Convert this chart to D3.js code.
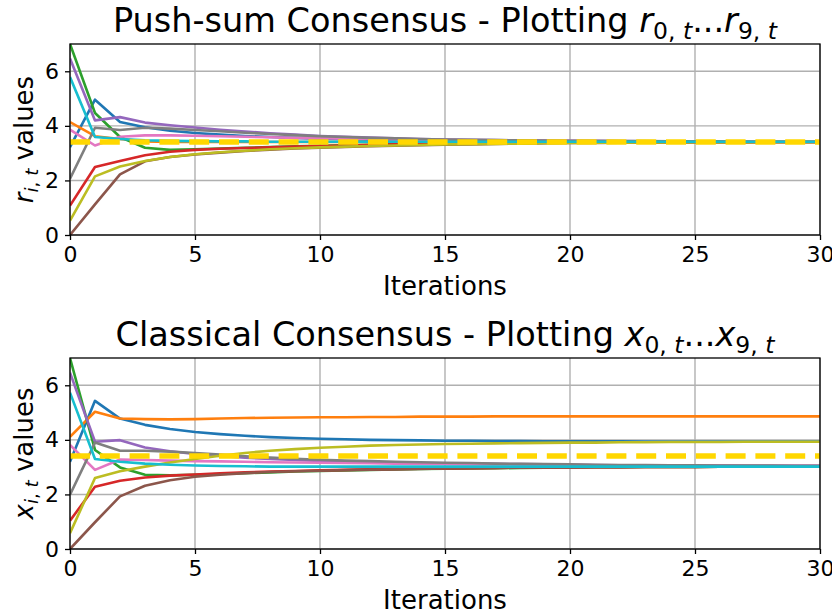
<!DOCTYPE html>
<html>
<head>
<meta charset="utf-8">
<script src="https://cdn.jsdelivr.net/npm/d3@7"></script>
<style>
    body { margin: 0; background: #fff; }
    svg { font-family: "DejaVu Sans", sans-serif; }
</style>
</head>
<body>
<svg id="chart" width="832" height="614"></svg>
<script>
// iterations on the x axis
const iterations = [0, 1, 2, 3, 4, 5, 6, 7, 8, 9, 10, 11, 12, 13, 14, 15, 16, 17, 18, 19, 20, 21, 22, 23, 24, 25, 26, 27, 28, 29, 30];
const xTicks = [0, 5, 10, 15, 20, 25, 30];
const yTicks = [0, 2, 4, 6];

// push-sum ratios r_{i,t}, one array per node
const r0 = [3.22, 4.96, 4.14, 3.95, 3.82, 3.74, 3.68, 3.63, 3.59, 3.56, 3.53, 3.51, 3.49, 3.47, 3.46, 3.45, 3.44, 3.44, 3.43, 3.43, 3.42, 3.42, 3.42, 3.42, 3.42, 3.42, 3.42, 3.42, 3.42, 3.42, 3.42];
const r1 = [4.14, 3.62, 3.52, 3.43, 3.41, 3.41, 3.41, 3.41, 3.41, 3.41, 3.41, 3.41, 3.41, 3.41, 3.41, 3.41, 3.41, 3.41, 3.41, 3.41, 3.41, 3.41, 3.41, 3.41, 3.41, 3.41, 3.41, 3.41, 3.41, 3.41, 3.41];
const r2 = [7.00, 4.47, 3.59, 3.20, 3.12, 3.14, 3.17, 3.20, 3.22, 3.25, 3.27, 3.29, 3.31, 3.33, 3.34, 3.35, 3.36, 3.37, 3.38, 3.39, 3.39, 3.40, 3.40, 3.40, 3.41, 3.41, 3.41, 3.41, 3.41, 3.41, 3.41];
const r3 = [1.08, 2.49, 2.71, 2.92, 3.05, 3.12, 3.16, 3.19, 3.21, 3.24, 3.26, 3.28, 3.30, 3.32, 3.33, 3.35, 3.36, 3.37, 3.38, 3.38, 3.39, 3.39, 3.40, 3.40, 3.40, 3.41, 3.41, 3.41, 3.41, 3.41, 3.41];
const r4 = [6.47, 4.20, 4.32, 4.12, 4.02, 3.94, 3.86, 3.79, 3.73, 3.68, 3.63, 3.60, 3.57, 3.54, 3.52, 3.50, 3.49, 3.48, 3.47, 3.46, 3.45, 3.44, 3.44, 3.43, 3.43, 3.43, 3.42, 3.42, 3.42, 3.42, 3.42];
const r5 = [0.00, 1.12, 2.22, 2.70, 2.86, 2.95, 3.02, 3.08, 3.13, 3.17, 3.20, 3.23, 3.25, 3.27, 3.29, 3.31, 3.32, 3.34, 3.35, 3.36, 3.37, 3.37, 3.38, 3.39, 3.39, 3.40, 3.40, 3.40, 3.41, 3.41, 3.41];
const r6 = [3.86, 3.28, 3.60, 3.65, 3.65, 3.64, 3.62, 3.60, 3.58, 3.56, 3.55, 3.53, 3.52, 3.50, 3.49, 3.48, 3.47, 3.46, 3.45, 3.45, 3.44, 3.44, 3.43, 3.43, 3.43, 3.42, 3.42, 3.42, 3.42, 3.42, 3.42];
const r7 = [2.06, 3.93, 3.85, 3.93, 3.90, 3.85, 3.80, 3.75, 3.70, 3.66, 3.62, 3.59, 3.56, 3.54, 3.52, 3.50, 3.49, 3.48, 3.47, 3.46, 3.45, 3.45, 3.44, 3.44, 3.43, 3.43, 3.43, 3.42, 3.42, 3.42, 3.42];
const r8 = [0.53, 2.15, 2.51, 2.71, 2.86, 2.96, 3.03, 3.09, 3.14, 3.18, 3.21, 3.24, 3.26, 3.28, 3.30, 3.32, 3.33, 3.34, 3.35, 3.36, 3.37, 3.38, 3.38, 3.39, 3.39, 3.40, 3.40, 3.40, 3.41, 3.41, 3.41];
const r9 = [5.79, 3.59, 3.52, 3.47, 3.45, 3.44, 3.43, 3.43, 3.42, 3.42, 3.42, 3.42, 3.42, 3.42, 3.42, 3.42, 3.42, 3.42, 3.42, 3.42, 3.42, 3.42, 3.42, 3.42, 3.42, 3.42, 3.42, 3.42, 3.42, 3.42, 3.42];

// classical consensus values x_{i,t}
const x0 = [3.20, 5.43, 4.78, 4.55, 4.40, 4.29, 4.21, 4.15, 4.10, 4.07, 4.04, 4.02, 4.00, 3.99, 3.98, 3.97, 3.97, 3.96, 3.96, 3.95, 3.95, 3.95, 3.95, 3.94, 3.94, 3.94, 3.94, 3.94, 3.94, 3.94, 3.94];
const x1 = [4.11, 5.03, 4.78, 4.76, 4.75, 4.76, 4.78, 4.80, 4.81, 4.82, 4.83, 4.83, 4.84, 4.84, 4.85, 4.85, 4.85, 4.86, 4.86, 4.86, 4.86, 4.86, 4.86, 4.86, 4.86, 4.86, 4.86, 4.86, 4.86, 4.86, 4.86];
const x2 = [7.00, 3.63, 2.99, 2.72, 2.70, 2.72, 2.75, 2.78, 2.81, 2.84, 2.86, 2.88, 2.90, 2.92, 2.93, 2.94, 2.95, 2.96, 2.97, 2.98, 2.99, 3.00, 3.00, 3.01, 3.01, 3.01, 3.02, 3.02, 3.02, 3.02, 3.02];
const x3 = [1.04, 2.28, 2.50, 2.62, 2.69, 2.73, 2.77, 2.81, 2.84, 2.86, 2.88, 2.90, 2.92, 2.93, 2.94, 2.95, 2.96, 2.97, 2.98, 2.99, 2.99, 3.00, 3.00, 3.01, 3.01, 3.01, 3.02, 3.02, 3.02, 3.02, 3.02];
const x4 = [6.46, 3.93, 3.99, 3.72, 3.58, 3.48, 3.41, 3.35, 3.30, 3.26, 3.23, 3.21, 3.19, 3.17, 3.15, 3.14, 3.13, 3.12, 3.11, 3.10, 3.09, 3.08, 3.07, 3.07, 3.06, 3.06, 3.06, 3.05, 3.05, 3.05, 3.05];
const x5 = [0.00, 0.98, 1.93, 2.32, 2.52, 2.65, 2.72, 2.78, 2.82, 2.85, 2.87, 2.89, 2.91, 2.92, 2.93, 2.95, 2.96, 2.97, 2.98, 2.99, 2.99, 3.00, 3.00, 3.01, 3.01, 3.01, 3.02, 3.02, 3.02, 3.02, 3.02];
const x6 = [3.81, 2.90, 3.28, 3.26, 3.24, 3.22, 3.21, 3.20, 3.18, 3.17, 3.16, 3.15, 3.14, 3.13, 3.12, 3.11, 3.10, 3.10, 3.09, 3.08, 3.08, 3.07, 3.07, 3.07, 3.06, 3.06, 3.06, 3.05, 3.05, 3.05, 3.05];
const x7 = [1.99, 3.90, 3.60, 3.60, 3.57, 3.52, 3.46, 3.40, 3.35, 3.31, 3.27, 3.24, 3.22, 3.20, 3.18, 3.16, 3.15, 3.13, 3.12, 3.11, 3.10, 3.09, 3.08, 3.08, 3.07, 3.07, 3.06, 3.06, 3.06, 3.05, 3.05];
const x8 = [0.58, 2.60, 2.85, 3.02, 3.17, 3.30, 3.42, 3.52, 3.60, 3.66, 3.71, 3.75, 3.79, 3.81, 3.83, 3.85, 3.86, 3.87, 3.88, 3.89, 3.90, 3.90, 3.91, 3.91, 3.92, 3.92, 3.92, 3.93, 3.93, 3.93, 3.93];
const x9 = [5.73, 3.30, 3.20, 3.13, 3.09, 3.06, 3.04, 3.03, 3.02, 3.02, 3.02, 3.02, 3.02, 3.02, 3.02, 3.02, 3.02, 3.02, 3.02, 3.02, 3.02, 3.02, 3.02, 3.02, 3.02, 3.02, 3.02, 3.02, 3.02, 3.02, 3.02];

// true average of the initial values (dashed line)
const average = [3.41];

const colors = ["#1f77b4", "#ff7f0e", "#2ca02c", "#d62728", "#9467bd", "#8c564b", "#e377c2", "#7f7f7f", "#bcbd22", "#17becf"];

const svg = d3.select("#chart");
const margin = { left: 70, right: 12 };
const plotW = 832 - margin.left - margin.right;
const plotH = 191;

function drawPanel(top, series, letter, leadText, clipId) {
    const g = svg.append("g").attr("transform", "translate(" + margin.left + "," + top + ")");

    let x = d3.scaleLinear().domain([0, 30]).range([0, plotW]);
    let y = d3.scaleLinear().domain([0, 7]).range([plotH, 0]);

    // grid
    g.append("g").selectAll("line").data(xTicks).enter().append("line")
        .attr("x1", d => x(d)).attr("x2", d => x(d))
        .attr("y1", 0).attr("y2", plotH)
        .attr("stroke", "#b0b0b0").attr("stroke-width", 1.4);
    g.append("g").selectAll("line").data(yTicks).enter().append("line")
        .attr("x1", 0).attr("x2", plotW)
        .attr("y1", d => y(d)).attr("y2", d => y(d))
        .attr("stroke", "#b0b0b0").attr("stroke-width", 1.4);

    g.append("clipPath").attr("id", clipId)
        .append("rect").attr("x", 0).attr("y", -2).attr("width", plotW).attr("height", plotH + 2);

    const line = d3.line()
        .x((d, i) => x(iterations[i]))
        .y(d => y(d));

    const lines = g.append("g").attr("clip-path", "url(#" + clipId + ")");
    series.forEach((s, i) => {
        lines.append("path")
            .datum(s)
            .attr("d", line)
            .attr("fill", "none")
            .attr("stroke", colors[i])
            .attr("stroke-width", 2.6)
            .attr("stroke-linejoin", "round");
    });

    lines.append("line")
        .attr("x1", x(0)).attr("x2", x(30))
        .attr("y1", y(average[0])).attr("y2", y(average[0]))
        .attr("stroke", "#ffd700")
        .attr("stroke-width", 5.5)
        .attr("stroke-dasharray", "20,9.8");

    // axes
    let xAxis = d3.axisBottom(x).tickValues(xTicks).tickFormat(d3.format("d")).tickSize(5).tickPadding(6);
    let yAxis = d3.axisLeft(y).tickValues(yTicks).tickFormat(d3.format("d")).tickSize(5).tickPadding(6);

    const gx = g.append("g").attr("transform", "translate(0," + plotH + ")").call(xAxis);
    const gy = g.append("g").call(yAxis);
    [gx, gy].forEach(a => {
        a.select(".domain").remove();
        a.selectAll(".tick line").attr("stroke", "#000").attr("stroke-width", 1.3);
        a.selectAll(".tick text").attr("fill", "#000").style("font-size", "22px")
            .style("font-family", "DejaVu Sans");
    });

    // spines
    g.append("rect")
        .attr("width", plotW).attr("height", plotH)
        .attr("fill", "none").attr("stroke", "#000").attr("stroke-width", 1.3);

    // x label
    g.append("text")
        .attr("x", plotW / 2).attr("y", plotH + 60)
        .attr("text-anchor", "middle")
        .style("font-size", "26px")
        .text("Iterations");

    // y label: letter_{i,t} values
    const yl = g.append("text")
        .attr("transform", "translate(-37," + (plotH / 2) + ") rotate(-90)")
        .attr("text-anchor", "middle")
        .style("font-size", "26px");
    yl.append("tspan").style("font-style", "italic").text(letter);
    yl.append("tspan").attr("dy", 5).style("font-size", "18.2px").style("font-style", "italic").text("i");
    yl.append("tspan").style("font-size", "18.2px").text(", ");
    yl.append("tspan").style("font-size", "18.2px").style("font-style", "italic").text("t");
    yl.append("tspan").attr("dy", -5).text(" values");

    // title with subscripts
    const t = g.append("text")
        .attr("x", plotW / 2).attr("y", -12)
        .attr("text-anchor", "middle")
        .style("font-size", "33.5px");
    t.append("tspan").text(leadText + " - Plotting ");
    t.append("tspan").style("font-style", "italic").text(letter);
    t.append("tspan").attr("dy", 7).style("font-size", "23.5px").text("0, ");
    t.append("tspan").style("font-size", "23.5px").style("font-style", "italic").text("t");
    t.append("tspan").attr("dy", -7).text("...");
    t.append("tspan").style("font-style", "italic").text(letter);
    t.append("tspan").attr("dy", 7).style("font-size", "23.5px").text("9, ");
    t.append("tspan").style("font-size", "23.5px").style("font-style", "italic").text("t");
}

drawPanel(44, [r0, r1, r2, r3, r4, r5, r6, r7, r8, r9], "r", "Push-sum Consensus", "clipTop");
drawPanel(358, [x0, x1, x2, x3, x4, x5, x6, x7, x8, x9], "x", "Classical Consensus", "clipBottom");
</script>
</body>
</html>
